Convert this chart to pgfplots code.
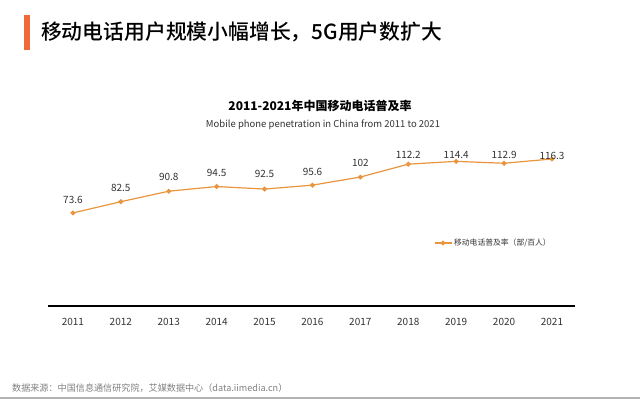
\documentclass[border=0pt]{standalone}
\usepackage{pgfplots}
\pgfplotsset{compat=1.18}
\usepackage{fontspec}
\setmainfont{Noto Sans CJK SC}
\newfontfamily\titlefont{Noto Sans CJK SC Medium}
\definecolor{lineorange}{HTML}{E8953E}
\definecolor{barred}{HTML}{EE6A3A}
\definecolor{txt}{HTML}{333333}
\begin{document}
\begin{tikzpicture}[x=1bp,y=1bp]
\path[use as bounding box] (0,0) rectangle (640,404);
\fill[barred] (24,354) rectangle (30,389);
\node[anchor=west, font=\fontsize{20.8bp}{24bp}\titlefont, text=black, inner sep=0] at (41,372) {移动电话用户规模小幅增长，5G用户数扩大};
\node[font=\fontsize{12bp}{14bp}\selectfont\bfseries, text=black] at (320,298) {2011-2021年中国移动电话普及率};
\node[font=\fontsize{9.5bp}{11bp}\selectfont, text=txt] at (323,279) {Mobile phone penetration in China from 2011 to 2021};
\begin{axis}[at={(48bp,98bp)}, anchor=south west, scale only axis,
  width=527bp, height=177bp,
  xmin=2010.48, xmax=2021.48, ymin=0, ymax=140,
  axis x line*=bottom, axis y line=none,
  x axis line style={-, line width=1.5bp, black},
  xtick={2011,2012,...,2021}, major tick length=0,
  ytick=\empty,
  /pgf/number format/assume math mode=true,
  xticklabel style={/pgf/number format/1000 sep={}, font=\fontsize{10bp}{12bp}\selectfont, text=txt, yshift=-9bp},
  clip=false,
  legend style={at={(0.845,0.356)}, anchor=center, draw=none, fill=none, font=\fontsize{7.8bp}{9bp}\selectfont, text=txt},
]
\addplot[color=lineorange, line width=1.2bp, mark=*, mark size=1.8bp, mark options={fill=lineorange}] table {
x y
2011 73.6
2012 82.5
2013 90.8
2014 94.5
2015 92.5
2016 95.6
2017 102
2018 112.2
2019 114.4
2020 112.9
2021 116.3
};
\addlegendentry{移动电话普及率（部/百人）}
\addplot[forget plot, draw=none, mark=none, nodes near coords, point meta=explicit symbolic,
  every node near coord/.append style={anchor=center, inner sep=0, font=\fontsize{10bp}{12bp}\selectfont, text=txt}] table[meta=lab] {
x y lab
2011 83.8 73.6
2012 93.3 82.5
2013 102.0 90.8
2014 105.1 94.5
2015 104.3 92.5
2016 105.9 95.6
2017 113.0 102
2018 119.4 112.2
2019 119.4 114.4
2020 119.4 112.9
2021 118.6 116.3
};
\end{axis}
\node[anchor=west, font=\fontsize{9.1bp}{10bp}\selectfont, text=gray, inner sep=0] at (12,16) {数据来源：中国信息通信研究院，艾媒数据中心（data.iimedia.cn）};
\draw[gray!60, line width=1.5bp] (0,6) -- (640,6);
\end{tikzpicture}
\end{document}
